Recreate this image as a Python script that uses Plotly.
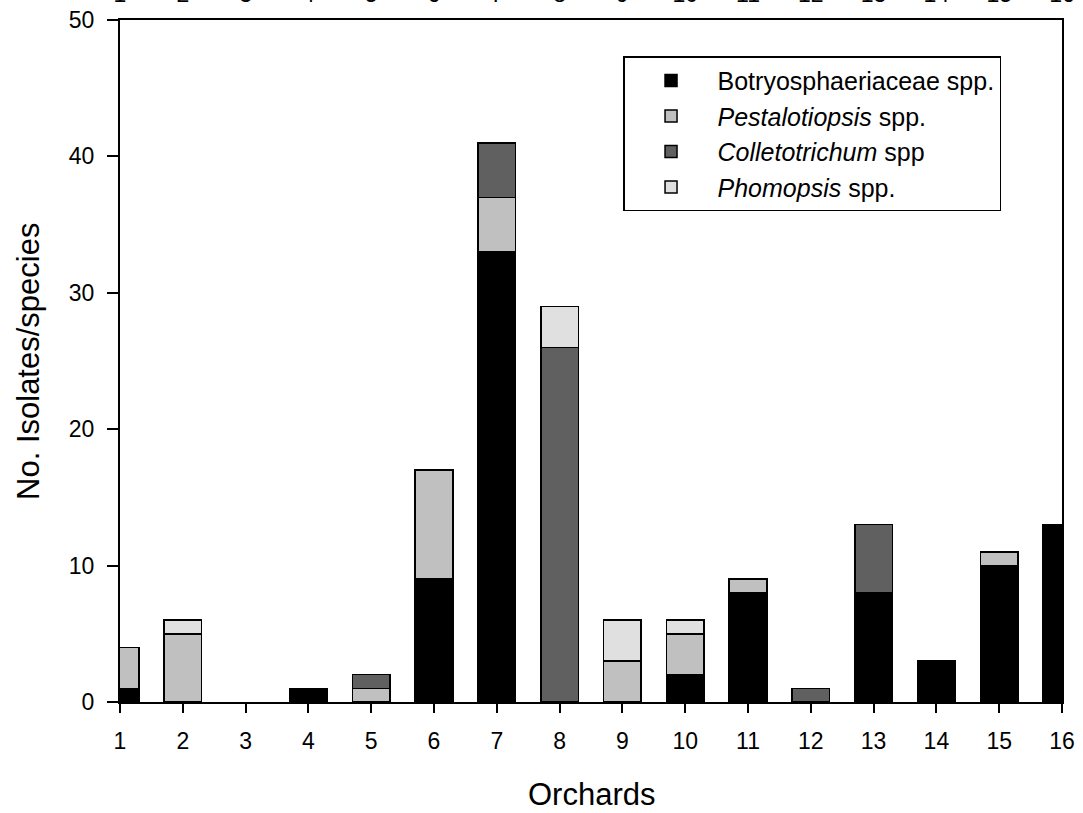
import plotly.graph_objects as go

orchards = list(range(1, 17))
botryo = [1, 0, 0, 1, 0, 9, 33, 0, 0, 2, 8, 0, 8, 3, 10, 13]
pestalotiopsis = [3, 5, 0, 0, 1, 8, 4, 0, 3, 3, 1, 0, 0, 0, 1, 0]
colletotrichum = [0, 0, 0, 0, 1, 0, 4, 26, 0, 0, 0, 1, 5, 0, 0, 0]
phomopsis = [0, 1, 0, 0, 0, 0, 0, 3, 3, 1, 0, 0, 0, 0, 0, 0]
y_ticks = [0, 10, 20, 30, 40, 50]

series = [
    ("Botryosphaeriaceae spp.", botryo, "#000000"),
    ("<i>Pestalotiopsis</i> spp.", pestalotiopsis, "#c0c0c0"),
    ("<i>Colletotrichum</i> spp", colletotrichum, "#606060"),
    ("<i>Phomopsis</i> spp.", phomopsis, "#e0e0e0"),
]

fig = go.Figure()
for name, vals, col in series:
    fig.add_trace(go.Bar(
        x=orchards, y=[v if v else None for v in vals], name=name,
        marker=dict(color=col, line=dict(color="#000000", width=1.5)),
        width=0.6,
    ))
# invisible trace for top mirrored axis labels
fig.add_trace(go.Scatter(x=orchards, y=[None]*16, xaxis="x2", showlegend=False,
                         hoverinfo="skip"))

font = "Liberation Sans, Arial, sans-serif"
fig.update_layout(
    barmode="stack",
    width=1083, height=813,
    margin=dict(l=120, r=21, t=20, b=111, autoexpand=False),
    paper_bgcolor="white", plot_bgcolor="white",
    font=dict(family=font, size=23, color="black"),
    xaxis=dict(
        range=[1, 16], tickmode="array", tickvals=orchards,
        ticks="outside", ticklen=9, tickwidth=2, tickcolor="black",
        showline=True, linewidth=2, linecolor="black", mirror=True,
        showgrid=False, zeroline=False, automargin=False,
        ticklabelstandoff=8, tickfont=dict(size=23),
    ),
    xaxis2=dict(
        range=[1, 16], overlaying="x", side="top", tickmode="array",
        tickvals=orchards, ticks="", showgrid=False, zeroline=False,
        showline=False, ticklabelstandoff=12, tickfont=dict(size=23),
        automargin=False,
    ),
    yaxis=dict(
        range=[0, 50], tickmode="array", tickvals=y_ticks,
        ticks="outside", ticklen=11, tickwidth=2, tickcolor="black",
        showline=True, linewidth=2, linecolor="black", mirror=True,
        showgrid=False, zeroline=False, automargin=False,
        ticklabelstandoff=8, tickfont=dict(size=23),
    ),
    legend=dict(
        x=0.534, y=0.947, xanchor="left", yanchor="top",
        bordercolor="black", borderwidth=1.5, bgcolor="white",
        traceorder="normal", font=dict(size=25),
        itemwidth=83, tracegroupgap=0,
    ),
    showlegend=True,
    annotations=[
        dict(text="Orchards", xref="paper", yref="paper", x=0.5, y=-0.135,
             xanchor="center", yanchor="middle", showarrow=False,
             font=dict(size=31)),
        dict(text="No. Isolates/species", xref="paper", yref="paper",
             x=-0.0977, y=0.5, xanchor="center", yanchor="middle",
             textangle=-90, showarrow=False, font=dict(size=31)),
    ],
)

fig.write_html("out.html")
